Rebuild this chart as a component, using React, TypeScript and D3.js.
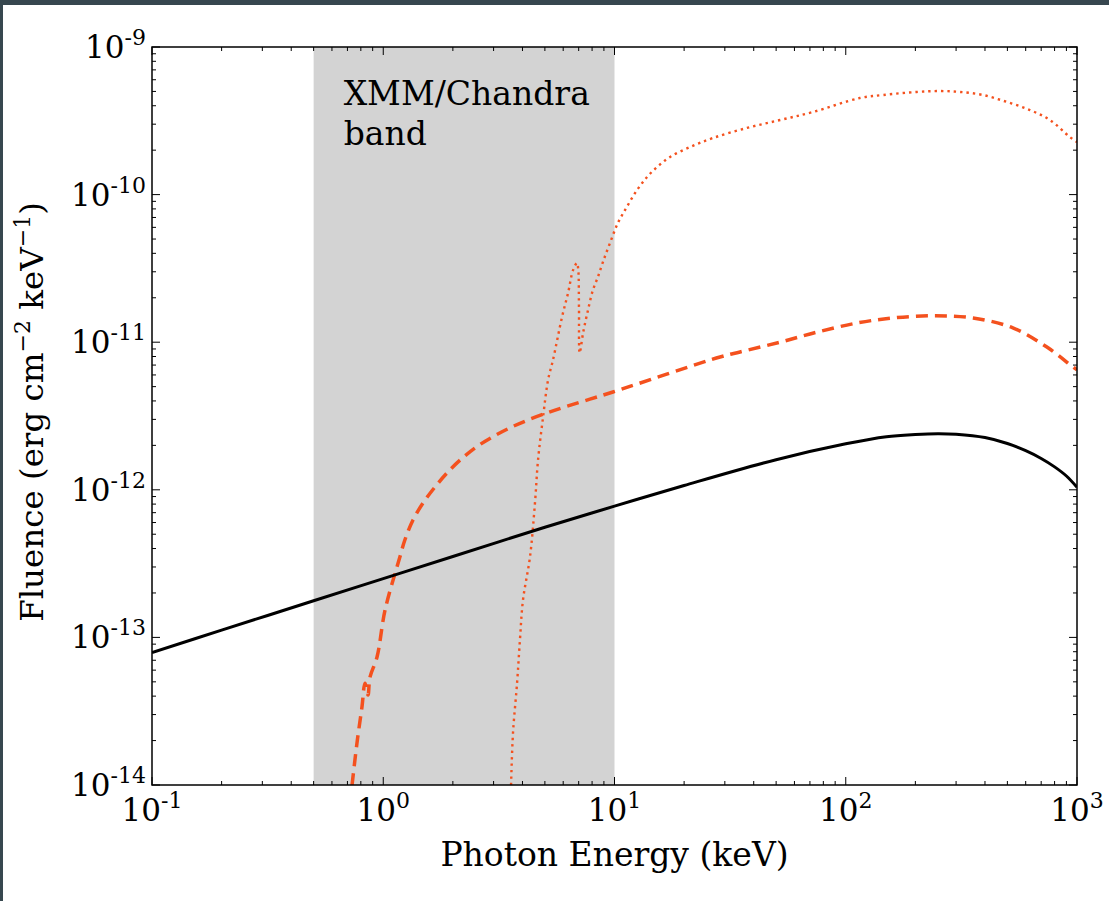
import React from "react";
import * as d3 from "d3";

// ---- data ----
const xDomain = [0.1, 1000];
const yDomain = [1e-14, 1e-9];
const xTickExponents = [-1, 0, 1, 2, 3];
const yTickExponents = [-9, -10, -11, -12, -13, -14];
const bandRange = [0.5, 10];
const bandLabel = ["XMM/Chandra", "band"];
const xAxisLabel = "Photon Energy (keV)";

const solidEnergy = [0.1, 0.2, 0.5, 1, 2, 5, 10, 20, 50, 100, 150, 200, 250, 300, 400, 500, 600, 700, 800, 900, 1000];
const solidFluence = [7.9e-14, 1.12e-13, 1.77e-13, 2.5e-13, 3.53e-13, 5.58e-13, 7.75e-13, 1.07e-12, 1.6e-12, 2.05e-12, 2.29e-12, 2.37e-12, 2.4e-12, 2.38e-12, 2.26e-12, 2.06e-12, 1.84e-12, 1.63e-12, 1.43e-12, 1.24e-12, 1.04e-12];

const dashedEnergy = [0.733, 0.77, 0.809, 0.834, 0.859, 0.877, 0.94, 1.018, 1.18, 1.24, 1.345, 1.486, 1.674, 1.887, 2.15, 2.54, 2.98, 3.53, 4.18, 5.11, 6.23, 7.83, 9.85, 28.6, 34.9, 52, 75.2, 112, 160, 238, 355, 528, 741, 961, 1000];
const dashedFluence = [1.0e-14, 1.93e-14, 3.38e-14, 4.9e-14, 4.07e-14, 5.4e-14, 7.36e-14, 1.53e-13, 3.5e-13, 4.57e-13, 6.24e-13, 8.14e-13, 1.045e-12, 1.3e-12, 1.59e-12, 1.96e-12, 2.29e-12, 2.63e-12, 2.95e-12, 3.32e-12, 3.68e-12, 4.11e-12, 4.6e-12, 7.94e-12, 8.59e-12, 1.0e-11, 1.17e-11, 1.35e-11, 1.46e-11, 1.51e-11, 1.46e-11, 1.25e-11, 9.27e-12, 6.79e-12, 6.5e-12];

const dottedEnergy = [3.57, 3.64, 3.79, 3.9, 4.02, 4.31, 4.53, 4.67, 4.91, 5.16, 5.42, 5.93, 6.3, 6.62, 6.88, 6.97, 7.02, 7.07, 7.31, 7.68, 8.07, 8.48, 8.91, 9.56, 10.35, 11.3, 12.5, 13.8, 15.3, 17.4, 21.2, 26.7, 37.4, 52, 72.2, 115, 145, 203, 256, 312, 392, 498, 626, 764, 933, 1000];
const dottedFluence = [1.0e-14, 2.25e-14, 4.9e-14, 9.6e-14, 1.79e-13, 3.5e-13, 8.15e-13, 1.59e-12, 3.11e-12, 5.54e-12, 7.58e-12, 1.48e-11, 2.16e-11, 3.08e-11, 3.44e-11, 3.1e-11, 1.73e-11, 8.45e-12, 1.15e-11, 1.65e-11, 2.26e-11, 2.77e-11, 3.49e-11, 4.7e-11, 6.43e-11, 8.24e-11, 1.07e-10, 1.31e-10, 1.54e-10, 1.8e-10, 2.1e-10, 2.42e-10, 2.83e-10, 3.2e-10, 3.63e-10, 4.51e-10, 4.73e-10, 4.96e-10, 5.03e-10, 4.96e-10, 4.73e-10, 4.24e-10, 3.74e-10, 3.2e-10, 2.45e-10, 2.27e-10];

// ---- layout ----
const W = 1109;
const H = 901;
const M = { left: 152, top: 47, right: 1077, bottom: 785 };
const FONT = "'DejaVu Serif', serif";
const ORANGE = "#f4511e";

function minorTicks(domain: number[]) {
  const out: number[] = [];
  const lo = Math.floor(Math.log10(domain[0]));
  const hi = Math.ceil(Math.log10(domain[1]));
  for (let d = lo; d < hi; d++) {
    for (let m = 2; m <= 9; m++) {
      const v = m * Math.pow(10, d);
      if (v > domain[0] && v < domain[1]) out.push(v);
    }
  }
  return out;
}

export default function App() {
  const x = d3.scaleLog().domain(xDomain).range([M.left, M.right]);
  const y = d3.scaleLog().domain(yDomain).range([M.bottom, M.top]);

  const line = d3
    .line<[number, number]>()
    .x((d) => x(d[0]))
    .y((d) => y(d[1]))
    .curve(d3.curveCatmullRom.alpha(0.5));

  const zip = (a: number[], b: number[]) => a.map((v, i) => [v, b[i]] as [number, number]);

  const xMinor = minorTicks(xDomain);
  const yMinor = minorTicks(yDomain);
  const major = 8;
  const minor = 4;

  return (
    <svg
      width={W}
      height={H}
      style={{ position: "absolute", left: 0, top: 0, display: "block" }}
      fontFamily={FONT}
    >
      <rect x={0} y={0} width={W} height={H} fill="#37474f" />
      <rect x={3} y={5} width={W - 3} height={H - 5} fill="#ffffff" />
      <defs>
        <clipPath id="plotClip">
          <rect x={M.left} y={M.top} width={M.right - M.left} height={M.bottom - M.top} />
        </clipPath>
      </defs>

      <rect
        x={x(bandRange[0])}
        y={M.top}
        width={x(bandRange[1]) - x(bandRange[0])}
        height={M.bottom - M.top}
        fill="#d3d3d3"
      />
      <text x={x(bandRange[0]) + 30} y={105} fontSize={33} fill="#000">
        {bandLabel[0]}
      </text>
      <text x={x(bandRange[0]) + 30} y={145} fontSize={33} fill="#000">
        {bandLabel[1]}
      </text>

      <g clipPath="url(#plotClip)" fill="none">
        <path d={line(zip(dottedEnergy, dottedFluence)) || ""} stroke={ORANGE} strokeWidth={2.4} strokeDasharray="2.4 4" />
        <path d={line(zip(dashedEnergy, dashedFluence)) || ""} stroke={ORANGE} strokeWidth={3.5} strokeDasharray="12 7" />
        <path d={line(zip(solidEnergy, solidFluence)) || ""} stroke="#000" strokeWidth={3} />
      </g>

      {/* ticks */}
      <g stroke="#000" strokeWidth={1}>
        {xTickExponents.map((e) => {
          const px = x(Math.pow(10, e));
          return (
            <g key={"xm" + e}>
              <line x1={px} x2={px} y1={M.bottom} y2={M.bottom - major} />
              <line x1={px} x2={px} y1={M.top} y2={M.top + major} />
            </g>
          );
        })}
        {xMinor.map((v, i) => {
          const px = x(v);
          return (
            <g key={"xn" + i}>
              <line x1={px} x2={px} y1={M.bottom} y2={M.bottom - minor} />
              <line x1={px} x2={px} y1={M.top} y2={M.top + minor} />
            </g>
          );
        })}
        {yTickExponents.map((e) => {
          const py = y(Math.pow(10, e));
          return (
            <g key={"ym" + e}>
              <line x1={M.left} x2={M.left + major} y1={py} y2={py} />
              <line x1={M.right} x2={M.right - major} y1={py} y2={py} />
            </g>
          );
        })}
        {yMinor.map((v, i) => {
          const py = y(v);
          return (
            <g key={"yn" + i}>
              <line x1={M.left} x2={M.left + minor} y1={py} y2={py} />
              <line x1={M.right} x2={M.right - minor} y1={py} y2={py} />
            </g>
          );
        })}
      </g>
      <rect
        x={M.left}
        y={M.top}
        width={M.right - M.left}
        height={M.bottom - M.top}
        fill="none"
        stroke="#000"
        strokeWidth={1.5}
      />

      {/* tick labels */}
      {xTickExponents.map((e) => (
        <text key={"xl" + e} x={x(Math.pow(10, e))} y={821} textAnchor="middle" fontSize={31} fill="#000">
          10
          <tspan dy={-13} fontSize={22}>
            {String(e)}
          </tspan>
        </text>
      ))}
      {yTickExponents.map((e) => (
        <text key={"yl" + e} x={146} y={y(Math.pow(10, e)) + 11} textAnchor="end" fontSize={31} fill="#000">
          10
          <tspan dy={-13} fontSize={22}>
            {String(e)}
          </tspan>
        </text>
      ))}

      {/* axis labels */}
      <text x={(M.left + M.right) / 2} y={866} textAnchor="middle" fontSize={33} fill="#000">
        {xAxisLabel}
      </text>
      <text transform={`translate(43, ${(M.top + M.bottom) / 2 - 4}) rotate(-90)`} textAnchor="middle" fontSize={32.5} fill="#000">
        Fluence (erg cm
        <tspan dy={-13} fontSize={22}>−2</tspan>
        <tspan dy={13}> keV</tspan>
        <tspan dy={-13} fontSize={22}>−1</tspan>
        <tspan dy={13}>)</tspan>
      </text>
    </svg>
  );
}
